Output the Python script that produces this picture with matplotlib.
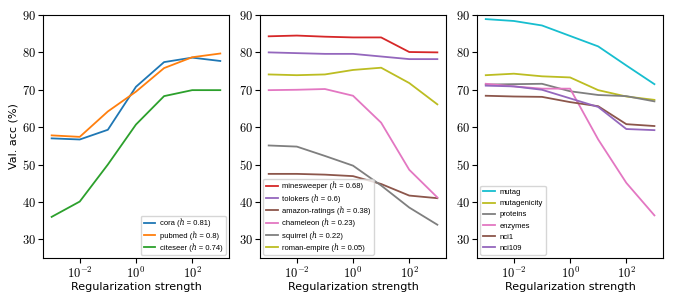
import math

import matplotlib
matplotlib.use("Agg")
import matplotlib.pyplot as plt
from matplotlib.ticker import FuncFormatter, NullLocator

plt.rcParams["mathtext.fontset"] = "cm"
plt.rcParams["font.size"] = 8

reg = [1e-3, 1e-2, 1e-1, 1e0, 1e1, 1e2, 1e3]

# panel 1: homophilous
cora = [57.0, 56.7, 59.3, 70.8, 77.4, 78.6, 77.7]
pubmed = [57.8, 57.4, 64.2, 69.5, 75.8, 78.7, 79.7]
citeseer = [36.0, 40.1, 50.0, 60.7, 68.3, 69.9, 69.9]

# panel 2: heterophilous
minesweeper = [84.3, 84.5, 84.2, 84.0, 84.0, 80.1, 80.0]
tolokers = [80.0, 79.8, 79.6, 79.6, 78.9, 78.2, 78.2]
amazon_ratings = [47.5, 47.5, 47.3, 46.9, 44.8, 41.7, 41.0]
chameleon = [69.9, 70.0, 70.2, 68.4, 61.2, 48.6, 41.2]
squirrel = [55.1, 54.8, 52.3, 49.7, 44.4, 38.5, 33.9]
roman_empire = [74.1, 73.9, 74.1, 75.3, 75.9, 71.8, 66.1]

# panel 3: graph classification
mutag = [88.9, 88.4, 87.2, 84.4, 81.6, 76.5, 71.5]
mutagenicity = [73.9, 74.3, 73.6, 73.3, 69.9, 68.2, 67.3]
proteins = [71.4, 71.5, 71.6, 69.6, 68.6, 68.3, 66.9]
enzymes = [71.6, 70.9, 70.3, 70.3, 56.7, 45.1, 36.4]
nci1 = [68.4, 68.2, 68.1, 66.7, 65.6, 60.8, 60.3]
nci109 = [71.1, 70.9, 70.0, 67.7, 65.4, 59.5, 59.2]

xticks = [1e-2, 1e0, 1e2]
yticks = [30, 40, 50, 60, 70, 80, 90]

# plain-text italic h (U+210E) keeps legend rows as compact as in the original
panels = [
    ([("cora (\u210e = 0.81)", cora, "C0"),
      ("pubmed (\u210e = 0.8)", pubmed, "C1"),
      ("citeseer (\u210e = 0.74)", citeseer, "C2")], "lower right"),
    ([("minesweeper (\u210e = 0.68)", minesweeper, "C3"),
      ("tolokers (\u210e = 0.6)", tolokers, "C4"),
      ("amazon-ratings (\u210e = 0.38)", amazon_ratings, "C5"),
      ("chameleon (\u210e = 0.23)", chameleon, "C6"),
      ("squirrel (\u210e = 0.22)", squirrel, "C7"),
      ("roman-empire (\u210e = 0.05)", roman_empire, "C8")], "lower left"),
    ([("mutag", mutag, "C9"),
      ("mutagenicity", mutagenicity, "C8"),
      ("proteins", proteins, "C7"),
      ("enzymes", enzymes, "C6"),
      ("nci1", nci1, "C5"),
      ("nci109", nci109, "C4")], "lower left"),
]

fig, axes = plt.subplots(1, 3, figsize=(6.75, 3.0), dpi=100)
fig.subplots_adjust(left=0.064, right=0.982, top=0.95, bottom=0.14, wspace=0.17)

for ax, (series, loc) in zip(axes, panels):
    for name, vals, c in series:
        ax.plot(reg, vals, color=c, lw=1.3, label=name)
    ax.set_xscale("log")
    ax.set_xticks(xticks)
    ax.xaxis.set_minor_locator(NullLocator())
    ax.xaxis.set_major_formatter(FuncFormatter(lambda v, p: "$10^{%d}$" % round(math.log10(v))))
    ax.set_ylim(25, 90)
    ax.set_yticks(yticks)
    ax.yaxis.set_major_formatter(FuncFormatter(lambda v, p: "$%d$" % v))
    ax.tick_params(labelsize=9, pad=2)
    ax.set_xlabel("Regularization strength", fontsize=8, labelpad=1)
    ax.legend(loc=loc, prop={"family": ["Liberation Sans", "DejaVu Serif"], "size": 5.5},
              handlelength=1.5, labelspacing=0.5,
              borderpad=0.4, handletextpad=0.6, borderaxespad=0.4)

axes[0].set_ylabel("Val. acc (%)", fontsize=8, labelpad=2)

fig.savefig("out.png", dpi=100)
